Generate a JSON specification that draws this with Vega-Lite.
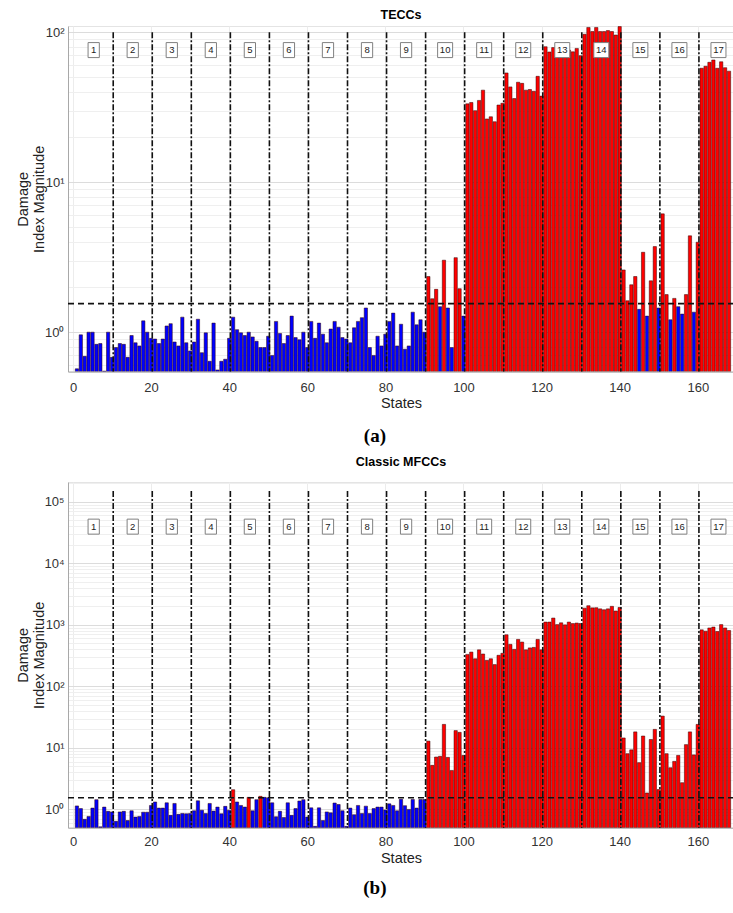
{
  "$schema": "https://vega.github.io/schema/vega-lite/v6.json",
  "padding": {"left": 14, "top": 8, "right": 0, "bottom": 0},
  "background": "white",
  "config": {
    "font": "Liberation Sans",
    "view": {"stroke": "#e4e4e4"},
    "title": {"font": "Liberation Sans", "color": "#000"}
  },
  "datasets": {
    "tecc": [
      {"s":1,"v":0.57,"d":0},{"s":2,"v":0.96,"d":0},{"s":3,"v":0.69,"d":0},{"s":4,"v":1.0,"d":0},{"s":5,"v":1.0,"d":0},
      {"s":6,"v":0.83,"d":0},{"s":7,"v":0.84,"d":0},{"s":8,"v":0.55,"d":0},{"s":9,"v":1.0,"d":0},{"s":10,"v":0.68,"d":0},
      {"s":11,"v":0.79,"d":0},{"s":12,"v":0.84,"d":0},{"s":13,"v":0.83,"d":0},{"s":14,"v":0.68,"d":0},{"s":15,"v":0.95,"d":0},
      {"s":16,"v":0.85,"d":0},{"s":17,"v":0.81,"d":0},{"s":18,"v":1.19,"d":0},{"s":19,"v":1.0,"d":0},{"s":20,"v":0.91,"d":0},
      {"s":21,"v":0.9,"d":0},{"s":22,"v":0.84,"d":0},{"s":23,"v":0.9,"d":0},{"s":24,"v":1.1,"d":0},{"s":25,"v":1.14,"d":0},
      {"s":26,"v":0.86,"d":0},{"s":27,"v":0.81,"d":0},{"s":28,"v":1.26,"d":0},{"s":29,"v":0.85,"d":0},{"s":30,"v":0.75,"d":0},
      {"s":31,"v":0.86,"d":0},{"s":32,"v":1.22,"d":0},{"s":33,"v":0.73,"d":0},{"s":34,"v":0.99,"d":0},{"s":35,"v":0.64,"d":0},
      {"s":36,"v":1.15,"d":0},{"s":37,"v":0.56,"d":0},{"s":38,"v":0.64,"d":0},{"s":39,"v":0.66,"d":0},{"s":40,"v":0.91,"d":0},
      {"s":41,"v":1.26,"d":0},{"s":42,"v":1.04,"d":0},{"s":43,"v":0.99,"d":0},{"s":44,"v":0.95,"d":0},{"s":45,"v":1.0,"d":0},
      {"s":46,"v":0.93,"d":0},{"s":47,"v":0.87,"d":0},{"s":48,"v":0.79,"d":0},{"s":49,"v":0.79,"d":0},{"s":50,"v":0.94,"d":0},
      {"s":51,"v":0.7,"d":0},{"s":52,"v":1.18,"d":0},{"s":53,"v":0.98,"d":0},{"s":54,"v":0.84,"d":0},{"s":55,"v":0.95,"d":0},
      {"s":56,"v":1.28,"d":0},{"s":57,"v":0.92,"d":0},{"s":58,"v":0.89,"d":0},{"s":59,"v":1.0,"d":0},{"s":60,"v":0.79,"d":0},
      {"s":61,"v":1.18,"d":0},{"s":62,"v":0.91,"d":0},{"s":63,"v":1.15,"d":0},{"s":64,"v":0.97,"d":0},{"s":65,"v":0.85,"d":0},
      {"s":66,"v":1.05,"d":0},{"s":67,"v":1.18,"d":0},{"s":68,"v":1.08,"d":0},{"s":69,"v":0.92,"d":0},{"s":70,"v":0.9,"d":0},
      {"s":71,"v":0.85,"d":0},{"s":72,"v":1.07,"d":0},{"s":73,"v":1.18,"d":0},{"s":74,"v":1.25,"d":0},{"s":75,"v":1.45,"d":0},
      {"s":76,"v":0.79,"d":0},{"s":77,"v":0.7,"d":0},{"s":78,"v":0.94,"d":0},{"s":79,"v":0.81,"d":0},{"s":80,"v":0.97,"d":0},
      {"s":81,"v":1.18,"d":0},{"s":82,"v":1.34,"d":0},{"s":83,"v":0.81,"d":0},{"s":84,"v":1.13,"d":0},{"s":85,"v":0.77,"d":0},
      {"s":86,"v":0.81,"d":0},{"s":87,"v":1.36,"d":0},{"s":88,"v":1.12,"d":0},{"s":89,"v":1.21,"d":0},{"s":90,"v":1.0,"d":0},
      {"s":91,"v":2.35,"d":1},{"s":92,"v":1.67,"d":1},{"s":93,"v":1.93,"d":1},{"s":94,"v":1.48,"d":0},{"s":95,"v":3.02,"d":1},
      {"s":96,"v":1.45,"d":0},{"s":97,"v":0.79,"d":0},{"s":98,"v":3.14,"d":1},{"s":99,"v":1.95,"d":1},{"s":100,"v":1.28,"d":0},
      {"s":101,"v":33.3,"d":1},{"s":102,"v":34.0,"d":1},{"s":103,"v":30.0,"d":1},{"s":104,"v":35.1,"d":1},{"s":105,"v":41.1,"d":1},
      {"s":106,"v":26.4,"d":1},{"s":107,"v":27.3,"d":1},{"s":108,"v":25.3,"d":1},{"s":109,"v":32.7,"d":1},{"s":110,"v":33.6,"d":1},
      {"s":111,"v":53.5,"d":1},{"s":112,"v":43.2,"d":1},{"s":113,"v":36.1,"d":1},{"s":114,"v":46.4,"d":1},{"s":115,"v":45.6,"d":1},
      {"s":116,"v":41.1,"d":1},{"s":117,"v":41.5,"d":1},{"s":118,"v":40.4,"d":1},{"s":119,"v":50.8,"d":1},{"s":120,"v":37.5,"d":1},
      {"s":121,"v":80,"d":1},{"s":122,"v":73.8,"d":1},{"s":123,"v":79,"d":1},{"s":124,"v":75.2,"d":1},{"s":125,"v":68.8,"d":1},
      {"s":126,"v":71,"d":1},{"s":127,"v":76,"d":1},{"s":128,"v":74,"d":1},{"s":129,"v":78,"d":1},{"s":130,"v":69.8,"d":1},
      {"s":131,"v":96.9,"d":1},{"s":132,"v":107.6,"d":1},{"s":133,"v":101,"d":1},{"s":134,"v":107.6,"d":1},{"s":135,"v":101,"d":1},
      {"s":136,"v":101,"d":1},{"s":137,"v":102.5,"d":1},{"s":138,"v":101,"d":1},{"s":139,"v":95.8,"d":1},{"s":140,"v":109,"d":1},
      {"s":141,"v":2.6,"d":1},{"s":142,"v":1.62,"d":1},{"s":143,"v":2.07,"d":1},{"s":144,"v":2.35,"d":1},{"s":145,"v":1.42,"d":0},
      {"s":146,"v":3.41,"d":1},{"s":147,"v":1.28,"d":0},{"s":148,"v":2.2,"d":1},{"s":149,"v":3.72,"d":1},{"s":150,"v":1.45,"d":0},
      {"s":151,"v":6.15,"d":1},{"s":152,"v":1.78,"d":1},{"s":153,"v":1.21,"d":0},{"s":154,"v":1.68,"d":1},{"s":155,"v":1.48,"d":0},
      {"s":156,"v":1.32,"d":0},{"s":157,"v":1.78,"d":1},{"s":158,"v":4.39,"d":1},{"s":159,"v":1.36,"d":0},{"s":160,"v":3.98,"d":1},
      {"s":161,"v":57.5,"d":1},{"s":162,"v":59.3,"d":1},{"s":163,"v":63,"d":1},{"s":164,"v":65.3,"d":1},{"s":165,"v":57.5,"d":1},
      {"s":166,"v":63.5,"d":1},{"s":167,"v":58,"d":1},{"s":168,"v":55,"d":1}
    ],
    "mfcc": [
      {"s":1,"v":1.14,"d":0},{"s":2,"v":1.03,"d":0},{"s":3,"v":0.69,"d":0},{"s":4,"v":0.77,"d":0},{"s":5,"v":1.05,"d":0},
      {"s":6,"v":1.44,"d":0},{"s":7,"v":0.52,"d":0},{"s":8,"v":1.09,"d":0},{"s":9,"v":0.93,"d":0},{"s":10,"v":0.91,"d":0},
      {"s":11,"v":0.64,"d":0},{"s":12,"v":0.91,"d":0},{"s":13,"v":0.93,"d":0},{"s":14,"v":0.66,"d":0},{"s":15,"v":0.95,"d":0},
      {"s":16,"v":0.75,"d":0},{"s":17,"v":0.77,"d":0},{"s":18,"v":0.9,"d":0},{"s":19,"v":0.9,"d":0},{"s":20,"v":1.16,"d":0},
      {"s":21,"v":1.32,"d":0},{"s":22,"v":1.05,"d":0},{"s":23,"v":1.05,"d":0},{"s":24,"v":1.28,"d":0},{"s":25,"v":0.8,"d":0},
      {"s":26,"v":1.25,"d":0},{"s":27,"v":0.83,"d":0},{"s":28,"v":0.86,"d":0},{"s":29,"v":0.85,"d":0},{"s":30,"v":0.86,"d":0},
      {"s":31,"v":0.95,"d":0},{"s":32,"v":1.38,"d":0},{"s":33,"v":0.97,"d":0},{"s":34,"v":0.86,"d":0},{"s":35,"v":1.25,"d":0},
      {"s":36,"v":0.94,"d":0},{"s":37,"v":1.09,"d":0},{"s":38,"v":0.85,"d":0},{"s":39,"v":1.12,"d":0},{"s":40,"v":0.97,"d":0},
      {"s":41,"v":2.09,"d":1},{"s":42,"v":1.32,"d":0},{"s":43,"v":1.16,"d":0},{"s":44,"v":1.09,"d":0},{"s":45,"v":1.57,"d":1},
      {"s":46,"v":0.95,"d":0},{"s":47,"v":1.44,"d":0},{"s":48,"v":1.63,"d":1},{"s":49,"v":1.57,"d":0},{"s":50,"v":1.55,"d":0},
      {"s":51,"v":1.28,"d":0},{"s":52,"v":0.76,"d":0},{"s":53,"v":0.93,"d":0},{"s":54,"v":0.74,"d":0},{"s":55,"v":1.28,"d":0},
      {"s":56,"v":0.8,"d":0},{"s":57,"v":1.03,"d":0},{"s":58,"v":1.37,"d":0},{"s":59,"v":1.44,"d":0},{"s":60,"v":0.75,"d":0},
      {"s":61,"v":1.06,"d":0},{"s":62,"v":0.53,"d":0},{"s":63,"v":1.06,"d":0},{"s":64,"v":0.66,"d":0},{"s":65,"v":0.91,"d":0},
      {"s":66,"v":0.88,"d":0},{"s":67,"v":1.27,"d":0},{"s":68,"v":1.2,"d":0},{"s":69,"v":0.95,"d":0},{"s":70,"v":0.53,"d":0},
      {"s":71,"v":1.05,"d":0},{"s":72,"v":0.82,"d":0},{"s":73,"v":1.16,"d":0},{"s":74,"v":0.86,"d":0},{"s":75,"v":1.13,"d":0},
      {"s":76,"v":0.86,"d":0},{"s":77,"v":1.03,"d":0},{"s":78,"v":1.09,"d":0},{"s":79,"v":1.09,"d":0},{"s":80,"v":0.98,"d":0},
      {"s":81,"v":1.23,"d":0},{"s":82,"v":1.16,"d":0},{"s":83,"v":0.95,"d":0},{"s":84,"v":1.46,"d":0},{"s":85,"v":1.15,"d":0},
      {"s":86,"v":1.0,"d":0},{"s":87,"v":1.45,"d":0},{"s":88,"v":1.05,"d":0},{"s":89,"v":1.45,"d":0},{"s":90,"v":1.45,"d":0},
      {"s":91,"v":12.9,"d":1},{"s":92,"v":5.2,"d":1},{"s":93,"v":7.1,"d":1},{"s":94,"v":7.3,"d":1},{"s":95,"v":24.1,"d":1},
      {"s":96,"v":7.0,"d":1},{"s":97,"v":4.3,"d":1},{"s":98,"v":19.1,"d":1},{"s":99,"v":17.9,"d":1},{"s":100,"v":7.55,"d":1},
      {"s":101,"v":331,"d":1},{"s":102,"v":361,"d":1},{"s":103,"v":281,"d":1},{"s":104,"v":393,"d":1},{"s":105,"v":336,"d":1},
      {"s":106,"v":265,"d":1},{"s":107,"v":281,"d":1},{"s":108,"v":226,"d":1},{"s":109,"v":320,"d":1},{"s":110,"v":345,"d":1},
      {"s":111,"v":690,"d":1},{"s":112,"v":482,"d":1},{"s":113,"v":400,"d":1},{"s":114,"v":580,"d":1},{"s":115,"v":525,"d":1},
      {"s":116,"v":393,"d":1},{"s":117,"v":422,"d":1},{"s":118,"v":430,"d":1},{"s":119,"v":580,"d":1},{"s":120,"v":393,"d":1},
      {"s":121,"v":1110,"d":1},{"s":122,"v":1110,"d":1},{"s":123,"v":1290,"d":1},{"s":124,"v":1010,"d":1},{"s":125,"v":1080,"d":1},
      {"s":126,"v":1000,"d":1},{"s":127,"v":1110,"d":1},{"s":128,"v":1050,"d":1},{"s":129,"v":1070,"d":1},{"s":130,"v":1050,"d":1},
      {"s":131,"v":1870,"d":1},{"s":132,"v":2050,"d":1},{"s":133,"v":1890,"d":1},{"s":134,"v":1900,"d":1},{"s":135,"v":1820,"d":1},
      {"s":136,"v":1760,"d":1},{"s":137,"v":1820,"d":1},{"s":138,"v":2000,"d":1},{"s":139,"v":1680,"d":1},{"s":140,"v":1920,"d":1},
      {"s":141,"v":14.5,"d":1},{"s":142,"v":8.05,"d":1},{"s":143,"v":9.3,"d":1},{"s":144,"v":18.2,"d":1},{"s":145,"v":5.75,"d":1},
      {"s":146,"v":15.6,"d":1},{"s":147,"v":1.85,"d":1},{"s":148,"v":13.7,"d":1},{"s":149,"v":20.0,"d":1},{"s":150,"v":2.1,"d":1},
      {"s":151,"v":32.9,"d":1},{"s":152,"v":8.05,"d":1},{"s":153,"v":4.76,"d":1},{"s":154,"v":6.04,"d":1},{"s":155,"v":7.55,"d":1},
      {"s":156,"v":2.72,"d":1},{"s":157,"v":11.3,"d":1},{"s":158,"v":18.2,"d":1},{"s":159,"v":7.7,"d":1},{"s":160,"v":24.1,"d":1},
      {"s":161,"v":830,"d":1},{"s":162,"v":790,"d":1},{"s":163,"v":890,"d":1},{"s":164,"v":920,"d":1},{"s":165,"v":780,"d":1},
      {"s":166,"v":1010,"d":1},{"s":167,"v":890,"d":1},{"s":168,"v":810,"d":1}
    ],
    "seg": [
      {"s":5.3,"k":"1"},{"s":15.3,"k":"2"},{"s":25.3,"k":"3"},{"s":35.3,"k":"4"},{"s":45.3,"k":"5"},{"s":55.3,"k":"6"},
      {"s":65.3,"k":"7"},{"s":75.3,"k":"8"},{"s":85.3,"k":"9"},{"s":95.3,"k":"10"},{"s":105.3,"k":"11"},{"s":115.3,"k":"12"},
      {"s":125.3,"k":"13"},{"s":135.3,"k":"14"},{"s":145.3,"k":"15"},{"s":155.3,"k":"16"},{"s":165.3,"k":"17"}
    ],
    "bnd": [
      {"s":10.3},{"s":20.3},{"s":30.3},{"s":40.3},{"s":50.3},{"s":60.3},{"s":70.3},{"s":80.3},
      {"s":90.3},{"s":100.3},{"s":110.3},{"s":120.3},{"s":130.3},{"s":140.3},{"s":150.3},{"s":160.3}
    ],
    "thr": [{"t":1.55}]
  },
  "vconcat": [
    {
      "title": {"text": "(a)", "orient": "bottom", "anchor": "middle", "font": "Liberation Serif", "fontSize": 19, "fontWeight": "bold", "offset": 16},
      "vconcat": [
        {
          "title": {"text": "TECCs", "fontSize": 12.5, "fontWeight": "bold", "offset": 5},
          "width": 666,
          "height": 345.6,
          "layer": [
            {
              "data": {"name": "tecc"},
              "mark": {"type": "bar", "width": 3.3, "clip": true, "stroke": "#300000", "strokeWidth": 0.5},
              "encoding": {
                "x": {"field": "s", "type": "quantitative", "scale": {"domain": [0, 168], "nice": false, "zero": false},
                  "axis": {"values": [0,20,40,60,80,100,120,140,160], "title": "States", "titleFontSize": 14.5, "titleFontWeight": "normal", "titleColor": "#222", "titlePadding": 2,
                    "labelFontSize": 13, "labelColor": "#333", "labelPadding": 10, "ticks": false, "domainColor": "#a8a8a8", "gridColor": "#ececec"}},
                "y": {"field": "v", "type": "quantitative", "scale": {"type": "log", "domain": [0.546, 110], "nice": false},
                  "axis": {"values": [0.6,0.7,0.8,0.9,1,2,3,4,5,6,7,8,9,10,20,30,40,50,60,70,80,90,100],
                    "labelExpr": "abs(log(datum.value)/LN10 - round(log(datum.value)/LN10)) < 0.001 ? '10' + ['⁰','¹','²','³','⁴','⁵'][round(log(datum.value)/LN10)] : ''",
                    "gridColor": {"condition": {"test": "abs(log(datum.value)/LN10 - round(log(datum.value)/LN10)) < 0.001", "value": "#dcdcdc"}, "value": "#efefef"},
                    "title": ["Damage", "Index Magnitude"], "titleFontSize": 14.5, "titleFontWeight": "normal", "titleColor": "#222", "titlePadding": 2, "titleLineHeight": 16,
                    "labelFontSize": 13, "labelColor": "#333", "labelPadding": 4, "ticks": false, "domainColor": "#a8a8a8", "minExtent": 20, "maxExtent": 20}},
                "y2": {"datum": 0.546},
                "color": {"field": "d", "type": "nominal", "scale": {"domain": [0, 1], "range": ["#0000ff", "#ff0000"]}, "legend": null}
              }
            },
            {
              "data": {"name": "bnd"},
              "mark": {"type": "rule", "color": "#111", "strokeWidth": 1.6, "strokeDash": [6, 2, 2, 2]},
              "encoding": {"x": {"field": "s", "type": "quantitative"}, "y": {"datum": 100}, "y2": {"datum": 0.546}}
            },
            {
              "data": {"name": "thr"},
              "mark": {"type": "rule", "color": "#111", "strokeWidth": 1.6, "strokeDash": [6, 4]},
              "encoding": {"y": {"field": "t", "type": "quantitative"}}
            },
            {
              "data": {"name": "seg"},
              "mark": {"type": "point", "filled": true, "fill": "white", "stroke": "#808080", "strokeWidth": 1, "size": 225, "opacity": 1},
              "encoding": {"x": {"field": "s", "type": "quantitative"}, "y": {"datum": 76},
                "shape": {"condition": {"test": "length(datum.k) > 1", "value": "M-1,-1H1V1H-1Z"}, "value": "M-0.75,-1H0.75V1H-0.75Z"}}
            },
            {
              "data": {"name": "seg"},
              "mark": {"type": "text", "fontSize": 9.5, "color": "#222", "baseline": "middle", "align": "center"},
              "encoding": {"x": {"field": "s", "type": "quantitative"}, "y": {"datum": 76}, "text": {"field": "k"}}
            }
          ]
        }
      ]
    },
    {
      "title": {"text": "(b)", "orient": "bottom", "anchor": "middle", "font": "Liberation Serif", "fontSize": 19, "fontWeight": "bold", "offset": 13},
      "vconcat": [
        {
          "title": {"text": "Classic MFCCs", "fontSize": 12.5, "fontWeight": "bold", "offset": 14},
          "width": 666,
          "height": 345.7,
          "layer": [
            {
              "data": {"name": "mfcc"},
              "mark": {"type": "bar", "width": 3.3, "clip": true, "stroke": "#300000", "strokeWidth": 0.5},
              "encoding": {
                "x": {"field": "s", "type": "quantitative", "scale": {"domain": [0, 168], "nice": false, "zero": false},
                  "axis": {"values": [0,20,40,60,80,100,120,140,160], "title": "States", "titleFontSize": 14.5, "titleFontWeight": "normal", "titleColor": "#222", "titlePadding": 3,
                    "labelFontSize": 13, "labelColor": "#333", "labelPadding": 8, "ticks": false, "domainColor": "#a8a8a8", "gridColor": "#ececec"}},
                "y": {"field": "v", "type": "quantitative", "scale": {"type": "log", "domain": [0.504, 210000], "nice": false},
                  "axis": {"values": [0.6,0.7,0.8,0.9,1,2,3,4,5,6,7,8,9,10,20,30,40,50,60,70,80,90,100,200,300,400,500,600,700,800,900,1000,2000,3000,4000,5000,6000,7000,8000,9000,10000,20000,30000,40000,50000,60000,70000,80000,90000,100000,200000],
                    "labelExpr": "abs(log(datum.value)/LN10 - round(log(datum.value)/LN10)) < 0.001 ? '10' + ['⁰','¹','²','³','⁴','⁵'][round(log(datum.value)/LN10)] : ''",
                    "gridColor": {"condition": {"test": "abs(log(datum.value)/LN10 - round(log(datum.value)/LN10)) < 0.001", "value": "#dcdcdc"}, "value": "#efefef"},
                    "title": ["Damage", "Index Magnitude"], "titleFontSize": 14.5, "titleFontWeight": "normal", "titleColor": "#222", "titlePadding": 2, "titleLineHeight": 16,
                    "labelFontSize": 13, "labelColor": "#333", "labelPadding": 4, "ticks": false, "domainColor": "#a8a8a8", "minExtent": 20, "maxExtent": 20}},
                "y2": {"datum": 0.504},
                "color": {"field": "d", "type": "nominal", "scale": {"domain": [0, 1], "range": ["#0000ff", "#ff0000"]}, "legend": null}
              }
            },
            {
              "data": {"name": "bnd"},
              "mark": {"type": "rule", "color": "#111", "strokeWidth": 1.6, "strokeDash": [6, 2, 2, 2]},
              "encoding": {"x": {"field": "s", "type": "quantitative"}, "y": {"datum": 150000}, "y2": {"datum": 0.504}}
            },
            {
              "data": {"name": "thr"},
              "mark": {"type": "rule", "color": "#111", "strokeWidth": 1.6, "strokeDash": [6, 4]},
              "encoding": {"y": {"field": "t", "type": "quantitative"}}
            },
            {
              "data": {"name": "seg"},
              "mark": {"type": "point", "filled": true, "fill": "white", "stroke": "#808080", "strokeWidth": 1, "size": 225, "opacity": 1},
              "encoding": {"x": {"field": "s", "type": "quantitative"}, "y": {"datum": 39500},
                "shape": {"condition": {"test": "length(datum.k) > 1", "value": "M-1,-1H1V1H-1Z"}, "value": "M-0.75,-1H0.75V1H-0.75Z"}}
            },
            {
              "data": {"name": "seg"},
              "mark": {"type": "text", "fontSize": 9.5, "color": "#222", "baseline": "middle", "align": "center"},
              "encoding": {"x": {"field": "s", "type": "quantitative"}, "y": {"datum": 39500}, "text": {"field": "k"}}
            }
          ]
        }
      ]
    }
  ],
  "spacing": 9
}
